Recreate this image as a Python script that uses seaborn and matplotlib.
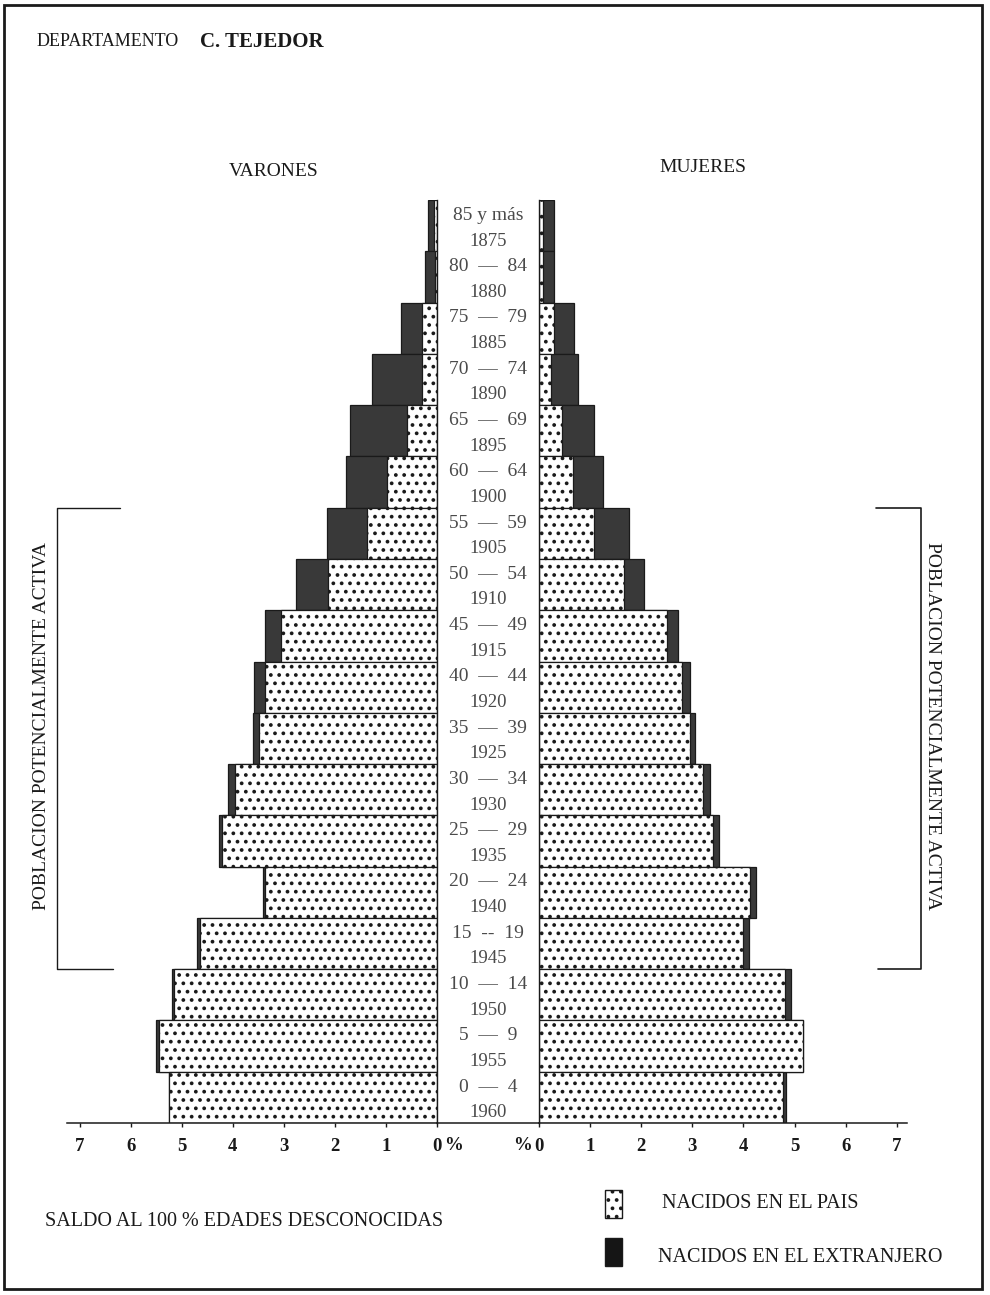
import matplotlib
matplotlib.use("Agg")
import matplotlib.pyplot as plt
import matplotlib.transforms as mtransforms
from matplotlib.patches import Rectangle
from matplotlib.lines import Line2D
import seaborn as sns
import pandas as pd

# ---------------- data ----------------
ages = ["85 y más", "80  —  84", "75  —  79", "70  —  74", "65  —  69", "60  —  64",
        "55  —  59", "50  —  54", "45  —  49", "40  —  44", "35  —  39", "30  —  34",
        "25  —  29", "20  —  24", "15  --  19", "10  —  14", "5  —  9", "0  —  4"]
years = ["1875", "1880", "1885", "1890", "1895", "1900", "1905", "1910", "1915",
         "1920", "1925", "1930", "1935", "1940", "1945", "1950", "1955", "1960"]

varones_pais = [0.05, 0.03, 0.29, 0.29, 0.58, 0.97, 1.38, 2.14, 3.05, 3.37, 3.48,
                3.95, 4.21, 3.37, 4.64, 5.15, 5.45, 5.25]
varones_extranjero = [0.13, 0.20, 0.41, 0.99, 1.13, 0.82, 0.78, 0.62, 0.32, 0.21,
                      0.12, 0.14, 0.07, 0.03, 0.07, 0.04, 0.06, 0.00]
mujeres_pais = [0.08, 0.08, 0.29, 0.24, 0.45, 0.67, 1.08, 1.67, 2.51, 2.79, 2.95,
                3.21, 3.40, 4.13, 4.00, 4.81, 5.16, 4.77]
mujeres_extranjero = [0.21, 0.21, 0.40, 0.53, 0.63, 0.59, 0.69, 0.39, 0.20, 0.16,
                      0.10, 0.13, 0.12, 0.11, 0.11, 0.13, 0.00, 0.06]

x_ticks = [0, 1, 2, 3, 4, 5, 6, 7]
activa_desde = "55  —  59"
activa_hasta = "15  --  19"

# ---------------- style ----------------
sns.set_theme(style="white")
plt.rcParams["font.family"] = ["Liberation Serif", "DejaVu Serif"]
plt.rcParams["hatch.linewidth"] = 1.5

DARK = "#393939"
INK = "#1a1a1a"
GRAY = "#4a4a4a"

W, H = 990, 1295
fig = plt.figure(figsize=(W / 100, H / 100), dpi=100)
fig.patch.set_facecolor("white")


def fx(px):
    return px / W


def fy(py):
    return 1 - py / H


bottom = fy(1123)
height = (1123 - 200) / H
axL = fig.add_axes([fx(67), bottom, fx(437) - fx(67), height])
axC = fig.add_axes([fx(437), bottom, fx(539) - fx(437), height])
axR = fig.add_axes([fx(539), bottom, fx(907) - fx(539), height])

dfV = pd.DataFrame({"edad": ages, "pais": varones_pais,
                    "total": [a + b for a, b in zip(varones_pais, varones_extranjero)]})
dfM = pd.DataFrame({"edad": ages, "pais": mujeres_pais,
                    "total": [a + b for a, b in zip(mujeres_pais, mujeres_extranjero)]})

for ax, df in ((axL, dfV), (axR, dfM)):
    sns.barplot(data=df, x="total", y="edad", order=ages, orient="h", color=DARK,
                saturation=1, edgecolor=INK, linewidth=0.9, width=1.0,
                errorbar=None, ax=ax)
    sns.barplot(data=df, x="pais", y="edad", order=ages, orient="h", color="white",
                saturation=1, edgecolor=INK, linewidth=0.9, width=1.0,
                hatch="..", errorbar=None, ax=ax)
    ax.set_ylim(len(ages) - 0.5, -0.5)
    ax.set_ylabel("")
    ax.set_xlabel("")
    ax.set_yticks([])
    ax.set_xticks(x_ticks)
    ax.set_xticklabels([str(t) for t in x_ticks], fontweight="bold", fontsize=13.5)
    ax.tick_params(axis="x", direction="out", length=3, width=1, pad=8,
                   colors=INK, bottom=True)
    ax.set_facecolor("none")
    for s in ax.spines.values():
        s.set_visible(False)
    ax.spines["bottom"].set_visible(True)
    ax.spines["bottom"].set_color(INK)
    ax.spines["bottom"].set_linewidth(1.1)

axL.set_xlim(7.25, 0)
axR.set_xlim(0, 7.2)
axL.spines["right"].set_visible(True)
axL.spines["right"].set_color(INK)
axL.spines["right"].set_linewidth(1.0)
axR.spines["left"].set_visible(True)
axR.spines["left"].set_color(INK)
axR.spines["left"].set_linewidth(1.0)

# "%" next to the zeros
axL.text(-0.14, -0.024, "%", transform=axL.get_xaxis_transform(), ha="left",
         va="center", fontsize=13.5, fontweight="bold", color=INK, clip_on=False)
axR.text(-0.14, -0.024, "%", transform=axR.get_xaxis_transform(), ha="right",
         va="center", fontsize=13.5, fontweight="bold", color=INK, clip_on=False)

# center column with age groups and birth years
axC.set_xlim(0, 1)
axC.set_ylim(len(ages) - 0.5, -0.5)
axC.set_xticks([])
axC.set_yticks([])
axC.set_facecolor("none")
for s in axC.spines.values():
    s.set_visible(False)
axC.spines["bottom"].set_visible(True)
axC.spines["bottom"].set_color(INK)
axC.spines["bottom"].set_linewidth(1.1)
for i, (a, yr) in enumerate(zip(ages, years)):
    axC.text(0.5, i - 0.2, a, ha="center", va="center", fontsize=14, color=GRAY)
    axC.text(0.5, i + 0.3, yr, ha="center", va="center", fontsize=13.5, color=GRAY)

# titles
fig.text(fx(37), fy(42), "DEPARTAMENTO", ha="left", va="center", fontsize=13, color=INK)
fig.text(fx(200), fy(42), "C. TEJEDOR", ha="left", va="center", fontsize=15,
         fontweight="bold", color=INK)
fig.text(fx(274), fy(172), "VARONES", ha="center", va="center", fontsize=14, color=INK)
fig.text(fx(703), fy(168), "MUJERES", ha="center", va="center", fontsize=14, color=INK)

# brackets "POBLACION POTENCIALMENTE ACTIVA"
i0 = ages.index(activa_desde) - 0.5
i1 = ages.index(activa_hasta) + 0.5
btr = mtransforms.blended_transform_factory(fig.transFigure, axL.transData)
fig.add_artist(Line2D([fx(120), fx(57), fx(57), fx(113)], [i0, i0, i1, i1],
                      transform=btr, color=INK, lw=1.0))
fig.add_artist(Line2D([fx(876), fx(921), fx(921), fx(878)], [i0, i0, i1, i1],
                      transform=btr, color=INK, lw=1.2))
ym = (i0 + i1) / 2 - 0.25
fig.text(fx(42), ym, "POBLACION POTENCIALMENTE ACTIVA", transform=btr, rotation=90,
         ha="center", va="center", fontsize=14, color=INK)
fig.text(fx(932), ym, "POBLACION POTENCIALMENTE ACTIVA", transform=btr, rotation=-90,
         ha="center", va="center", fontsize=14, color=INK)

# footer
fig.text(fx(45), fy(1222), "SALDO AL 100 % EDADES DESCONOCIDAS", ha="left",
         va="center", fontsize=14.5, color=INK)

# legend
fig.add_artist(Rectangle((fx(605), fy(1218)), fx(622) - fx(605), (1218 - 1190) / H,
                         transform=fig.transFigure, facecolor="white", edgecolor=INK,
                         lw=1.0, hatch=".."))
fig.text(fx(662), fy(1203), "NACIDOS EN EL PAIS", ha="left", va="center",
         fontsize=14.5, color=INK)
fig.add_artist(Rectangle((fx(605), fy(1266)), fx(622) - fx(605), (1266 - 1238) / H,
                         transform=fig.transFigure, facecolor="#151515", edgecolor=INK,
                         lw=1.0))
fig.text(fx(658), fy(1257), "NACIDOS EN EL EXTRANJERO", ha="left", va="center",
         fontsize=14.5, color=INK)

# outer frame
fig.add_artist(Rectangle((fx(4), fy(1289)), fx(982) - fx(4), (1289 - 5) / H,
                         transform=fig.transFigure, facecolor="none", edgecolor=INK,
                         lw=2.0))

fig.savefig("out.png", dpi=100, facecolor="white")
